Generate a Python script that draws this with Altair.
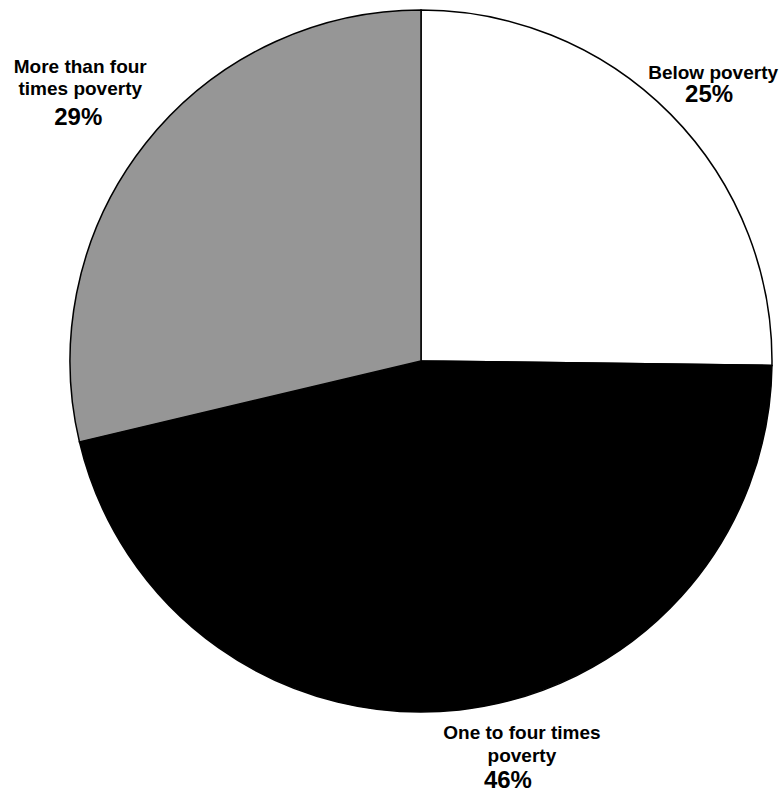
import math
import altair as alt
import pandas as pd

# ---- data ----
categories = ["Below poverty", "One to four times poverty", "More than four times poverty"]
name_lines = ["Below poverty", "One to four times\npoverty", "More than four\ntimes poverty"]
values = [25.2, 46.1, 28.7]
pct_labels = ["25%", "46%", "29%"]

# ---- styling / layout (kept separate from the data) ----
colors = ["#ffffff", "#000000", "#969696"]
CX, CY, R, LABEL_R = 421, 361, 351, 400
FONT = "Liberation Sans"
# per-label (dx, dy) nudges for name text and percentage text
label_offsets = {
    "Below poverty": ((7.5, -1), (3.5, 22.5)),
    "One to four times poverty": ((57, -19.5), (43, 29.5)),
    "More than four times poverty": ((-27, -40), (-29, 12.5)),
}

df = pd.DataFrame({
    "category": categories,
    "name": name_lines,
    "value": values,
    "pct": pct_labels,
    "order": list(range(len(categories))),
})
total = df["value"].sum()
df["mid"] = (df["value"].cumsum() - df["value"] / 2) / total * 2 * math.pi

base = alt.Chart(df)

pie = base.mark_arc(stroke="black", strokeWidth=1.5, radius=R).encode(
    theta=alt.Theta("value:Q", stack=True),
    order=alt.Order("order:Q"),
    color=alt.Color("category:N", scale=alt.Scale(domain=categories, range=colors), legend=None),
    x=alt.value(CX),
    y=alt.value(CY),
)

layers = [pie]
for cat in categories:
    (ndx, ndy), (pdx, pdy) = label_offsets[cat]
    sub = base.transform_filter(alt.datum.category == cat)
    layers.append(
        sub.mark_text(
            radius=LABEL_R, font=FONT, fontSize=19, fontWeight="bold",
            lineBreak="\n", lineHeight=22.5, align="center", baseline="alphabetic",
            dx=ndx, dy=ndy, color="black",
        ).encode(
            theta=alt.Theta("mid:Q", scale=None),
            text="name:N",
            x=alt.value(CX),
            y=alt.value(CY),
        )
    )
    layers.append(
        sub.mark_text(
            radius=LABEL_R, font=FONT, fontSize=24, fontWeight="bold",
            align="center", baseline="alphabetic",
            dx=pdx, dy=pdy, color="black",
        ).encode(
            theta=alt.Theta("mid:Q", scale=None),
            text="pct:N",
            x=alt.value(CX),
            y=alt.value(CY),
        )
    )

chart = alt.layer(*layers).properties(
    width=783, height=792, padding=0,
    autosize=alt.AutoSizeParams(type="none"),
    background="white",
).configure_view(stroke=None)

chart.save("out.html", embed_options={"renderer": "svg", "actions": False})
